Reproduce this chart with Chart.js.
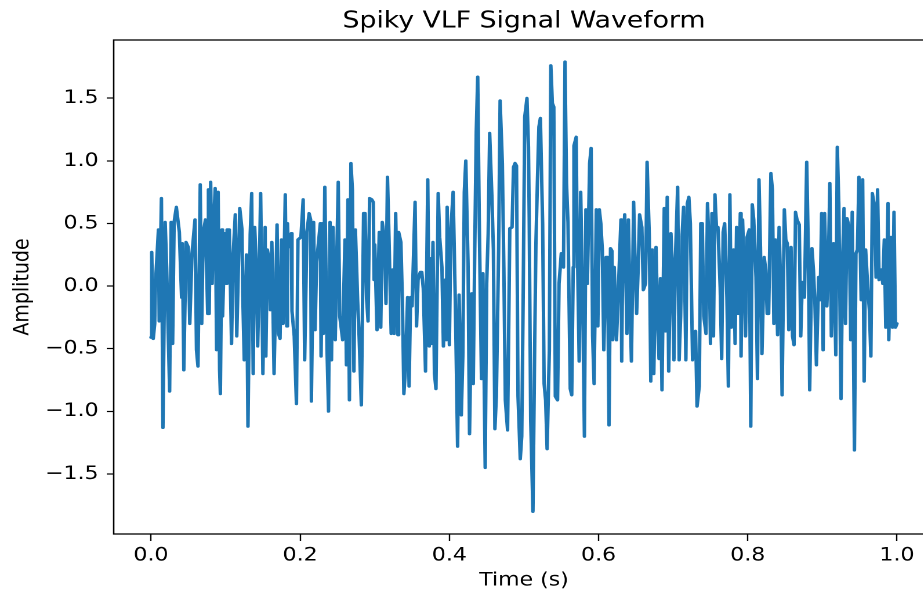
<!DOCTYPE html>
<html>
<head>
<meta charset="utf-8">
<title>Spiky VLF Signal Waveform</title>
<script src="https://cdn.jsdelivr.net/npm/chart.js@4.4.0/dist/chart.umd.min.js"></script>
<style>
  html, body { margin: 0; padding: 0; background: #fff; overflow: hidden; }
  /* la figura original viene estirada en horizontal (~1.16) */
  #contenedor { width: 810px; height: 594px; transform: scaleX(1.16); transform-origin: 0 0; }
</style>
</head>
<body>
<div id="contenedor"><canvas id="GraficoSenal" width="810" height="594"></canvas></div>
<script>
// tiempos (s) y amplitudes
var time = [
  0.000,0.001,0.003,0.005,0.006,0.010,0.011,0.014,0.016,0.019,
  0.021,0.025,0.027,0.029,0.031,0.034,0.038,0.041,0.042,0.044,
  0.047,0.050,0.052,0.055,0.059,0.061,0.063,0.066,0.068,0.070,
  0.073,0.076,0.077,0.078,0.080,0.082,0.083,0.086,0.088,0.090,
  0.092,0.093,0.095,0.096,0.099,0.101,0.102,0.105,0.108,0.110,
  0.113,0.115,0.119,0.122,0.123,0.125,0.128,0.130,0.133,0.135,
  0.137,0.139,0.142,0.143,0.145,0.147,0.150,0.153,0.154,0.156,
  0.159,0.160,0.162,0.165,0.169,0.171,0.173,0.175,0.177,0.180,
  0.182,0.183,0.184,0.188,0.189,0.192,0.195,0.197,0.201,0.204,
  0.206,0.209,0.212,0.214,0.215,0.218,0.220,0.222,0.227,0.228,
  0.230,0.231,0.233,0.236,0.238,0.240,0.242,0.244,0.247,0.251,
  0.253,0.257,0.260,0.262,0.264,0.266,0.268,0.270,0.272,0.274,
  0.277,0.279,0.282,0.285,0.287,0.289,0.291,0.293,0.296,0.298,
  0.299,0.300,0.303,0.306,0.308,0.310,0.313,0.315,0.317,0.319,
  0.322,0.324,0.326,0.328,0.331,0.332,0.335,0.337,0.339,0.341,
  0.344,0.346,0.348,0.350,0.354,0.356,0.358,0.361,0.363,0.365,
  0.368,0.371,0.373,0.375,0.376,0.378,0.380,0.382,0.385,0.387,
  0.390,0.392,0.395,0.396,0.397,0.400,0.402,0.405,0.408,0.411,
  0.413,0.416,0.418,0.420,0.422,0.425,0.427,0.430,0.432,0.434,
  0.436,0.438,0.440,0.443,0.445,0.448,0.450,0.452,0.454,0.457,
  0.459,0.461,0.463,0.466,0.468,0.471,0.473,0.475,0.478,0.481,
  0.484,0.486,0.488,0.490,0.492,0.495,0.497,0.499,0.501,0.504,
  0.506,0.507,0.509,0.512,0.514,0.516,0.518,0.520,0.522,0.525,
  0.527,0.529,0.531,0.534,0.536,0.538,0.540,0.542,0.545,0.547,
  0.550,0.553,0.555,0.557,0.559,0.562,0.564,0.566,0.567,0.570,
  0.571,0.574,0.576,0.579,0.581,0.583,0.585,0.588,0.590,0.592,
  0.594,0.597,0.599,0.601,0.603,0.605,0.607,0.610,0.612,0.614,
  0.616,0.618,0.619,0.621,0.624,0.630,0.631,0.632,0.635,0.638,
  0.640,0.642,0.644,0.647,0.649,0.651,0.653,0.655,0.658,0.660,
  0.663,0.665,0.668,0.670,0.672,0.674,0.677,0.679,0.681,0.683,
  0.685,0.688,0.690,0.692,0.694,0.697,0.699,0.701,0.703,0.706,
  0.708,0.710,0.712,0.714,0.717,0.719,0.721,0.723,0.726,0.728,
  0.730,0.732,0.735,0.737,0.739,0.741,0.744,0.746,0.748,0.750,
  0.752,0.754,0.756,0.758,0.760,0.763,0.765,0.767,0.769,0.772,
  0.774,0.776,0.778,0.781,0.783,0.785,0.787,0.790,0.791,0.793,
  0.795,0.797,0.799,0.802,0.804,0.806,0.808,0.811,0.813,0.815,
  0.817,0.819,0.822,0.824,0.826,0.828,0.831,0.833,0.835,0.837,
  0.840,0.842,0.844,0.846,0.849,0.851,0.853,0.855,0.858,0.860,
  0.862,0.864,0.866,0.869,0.871,0.873,0.876,0.879,0.881,0.883,
  0.886,0.888,0.890,0.892,0.895,0.897,0.899,0.901,0.903,0.906,
  0.908,0.910,0.912,0.915,0.918,0.920,0.922,0.925,0.927,0.929,
  0.931,0.933,0.936,0.938,0.940,0.943,0.945,0.947,0.949,0.952,
  0.954,0.956,0.958,0.961,0.963,0.965,0.967,0.970,0.972,0.974,
  0.976,0.979,0.981,0.983,0.985,0.988,0.989,0.992,0.994,0.996,
  0.998,1.000
];
var amplitude = [
  -0.41,0.27,-0.42,-0.30,0.02,0.45,-0.28,0.70,-1.13,0.51,
  0.15,-0.84,0.51,-0.46,0.51,0.63,0.43,-0.09,0.34,-0.67,
  0.35,0.31,-0.30,0.26,0.53,-0.51,-0.64,0.81,-0.30,0.42,
  0.53,-0.22,0.77,-0.22,0.83,0.02,0.34,0.78,-0.51,0.75,
  -0.67,-0.86,0.45,-0.24,0.42,0.02,0.45,0.45,-0.46,0.23,
  0.57,-0.40,0.62,0.45,-0.06,-0.59,0.25,-1.12,0.41,0.74,
  -0.70,0.47,0.05,-0.48,0.05,0.74,-0.70,0.47,-0.56,0.29,
  0.18,-0.19,0.35,-0.70,0.49,-0.38,-0.42,0.37,-0.30,0.73,
  -0.32,0.50,0.31,0.42,-0.20,-0.40,-0.94,0.37,0.39,0.69,
  -0.59,0.43,0.58,0.53,-0.92,0.51,-0.35,0.19,0.50,-0.56,
  0.50,-0.38,0.79,-0.51,-1.00,0.51,-0.59,0.47,-0.43,0.83,
  -0.24,-0.43,0.37,-0.63,0.69,-0.91,0.98,0.77,-0.68,0.45,
  -0.11,-0.40,-0.95,0.58,0.58,-0.10,-0.28,0.70,0.69,0.67,
  0.05,0.33,-0.35,0.43,-0.33,0.51,0.37,-0.14,0.87,0.40,
  -0.38,0.13,-0.38,0.58,-0.39,0.43,0.35,-0.11,-0.86,-0.67,
  -0.09,-0.80,-0.09,-0.16,0.67,-0.32,0.05,0.11,0.11,-0.02,
  -0.68,0.85,-0.48,0.22,-0.46,0.35,-0.70,-0.82,0.74,0.39,
  0.15,-0.48,0.05,-0.43,0.63,-0.47,0.45,0.75,-0.14,-1.28,
  -0.07,-1.03,-0.56,0.75,1.00,0.18,-1.18,-0.06,-0.78,0.29,
  1.23,1.67,0.55,-0.74,0.10,-1.45,0.02,0.42,1.22,0.71,
  0.29,-1.14,-0.88,0.29,1.48,0.98,0.15,-0.91,-1.15,0.46,
  0.47,0.95,0.98,0.96,-0.88,-1.38,-1.20,-0.03,1.35,1.50,
  1.11,0.55,-1.07,-1.80,-0.67,0.34,0.83,1.27,1.34,0.50,
  -0.78,-0.91,-1.30,-0.51,1.76,1.46,1.43,-0.88,-0.91,0.02,
  0.26,0.15,1.79,0.82,0.51,-0.82,-0.87,0.15,1.12,1.19,
  0.53,-0.60,0.75,-0.24,-1.20,0.61,0.02,0.98,1.10,-0.40,
  -0.78,0.61,-0.32,0.61,0.50,0.29,-0.51,0.23,0.23,-1.11,
  0.30,0.28,-0.43,0.15,-0.43,0.53,-0.60,0.02,0.57,-0.38,
  0.53,-0.09,-0.60,0.67,0.18,-0.22,0.13,0.57,0.47,-0.03,
  0.02,0.99,0.39,-0.76,0.29,-0.70,0.31,-0.22,-0.58,0.06,
  -0.83,0.62,-0.36,0.71,-0.68,0.42,0.13,-0.59,0.22,0.79,
  -0.59,-0.24,0.41,0.63,-0.59,0.66,0.71,0.50,-0.59,-0.39,
  -0.36,-0.96,-0.80,0.50,0.50,-0.24,-0.38,0.66,0.34,-0.46,
  0.58,-0.40,0.73,0.47,0.47,-0.01,-0.58,0.43,0.50,-0.09,
  -0.80,0.73,-0.33,0.29,-0.46,0.47,-0.22,0.58,-0.56,0.53,
  0.15,-0.40,0.39,0.45,-1.12,0.65,0.53,0.07,-0.74,0.85,
  0.31,-0.54,0.23,0.13,-0.22,-0.22,0.90,0.77,-0.30,0.37,
  -0.39,0.47,0.02,-0.87,0.61,0.37,0.34,-0.35,0.31,-0.40,
  -0.47,0.59,0.53,0.49,-0.40,0.03,-0.09,0.99,0.35,-0.83,
  0.30,0.13,-0.14,-0.63,0.07,-0.11,0.58,-0.51,0.58,-0.16,
  0.18,0.82,-0.40,0.34,-0.55,1.11,0.66,-0.90,0.18,0.62,
  -0.30,0.54,0.47,-0.43,0.59,-1.31,0.26,0.29,0.87,-0.11,
  0.85,-0.76,0.29,-0.03,-0.19,-0.56,0.74,0.63,0.07,0.77,
  0.05,0.13,0.02,0.37,-0.33,0.66,-0.43,0.39,-0.33,0.59,
  -0.33,-0.30
];
var xTicks = [0.0, 0.2, 0.4, 0.6, 0.8, 1.0];
var yTicks = [-1.5, -1.0, -0.5, 0.0, 0.5, 1.0, 1.5];

var fuente = 'DejaVu Sans';

function formato(v) {
  return Number(v).toFixed(1).replace('-', '\u2212');
}

// marco negro alrededor del area del grafico
var marco = {
  id: 'marco',
  afterDraw: function(chart) {
    var a = chart.chartArea;
    var c = chart.ctx;
    c.save();
    c.strokeStyle = '#000';
    c.lineWidth = 1.3;
    c.strokeRect(a.left, a.top, a.right - a.left, a.bottom - a.top);
    c.restore();
  }
};

var ctxSenal = document.getElementById('GraficoSenal').getContext('2d');
var GraficoSenal = new Chart(ctxSenal, {
  type: 'line',
  data: {
    datasets: [{
      label: 'Amplitude',
      data: time.map(function(t, i) { return { x: t, y: amplitude[i] }; }),
      borderColor: '#1f77b4',
      borderWidth: 3,
      borderJoinStyle: 'round',
      borderCapStyle: 'round',
      pointRadius: 0,
      fill: false,
      tension: 0
    }]
  },
  options: {
    responsive: false,
    devicePixelRatio: 2,
    animation: false,
    layout: { padding: { left: 0, right: 4.6, top: 0, bottom: 0 } },
    plugins: {
      legend: { display: false },
      tooltip: { enabled: false },
      title: {
        display: true,
        text: 'Spiky VLF Signal Waveform',
        fullSize: false,
        color: '#000',
        font: { family: fuente, size: 23, weight: 'normal' },
        padding: { top: 7.6, bottom: 4.8 }
      }
    },
    scales: {
      x: {
        type: 'linear',
        min: -0.05,
        max: 1.05,
        afterBuildTicks: function(s) { s.ticks = xTicks.map(function(v) { return { value: v }; }); },
        afterFit: function(s) { s.height = 60; },
        ticks: {
          color: '#000',
          font: { family: fuente, size: 19 },
          padding: 3,
          maxRotation: 0,
          autoSkip: false,
          callback: formato
        },
        grid: { drawOnChartArea: false, drawTicks: true, tickLength: 7, tickColor: '#000', tickWidth: 1.2 },
        border: { display: false },
        title: {
          display: true,
          text: 'Time (s)',
          color: '#000',
          font: { family: fuente, size: 19 },
          padding: { top: 2, bottom: 2 }
        }
      },
      y: {
        type: 'linear',
        min: -1.98,
        max: 1.965,
        afterBuildTicks: function(s) { s.ticks = yTicks.map(function(v) { return { value: v }; }); },
        afterFit: function(s) { s.width = 98; },
        ticks: {
          color: '#000',
          font: { family: fuente, size: 19 },
          padding: 7,
          autoSkip: false,
          callback: formato
        },
        grid: { drawOnChartArea: false, drawTicks: true, tickLength: 6, tickColor: '#000', tickWidth: 1.2 },
        border: { display: false },
        title: {
          display: true,
          text: 'Amplitude',
          color: '#000',
          font: { family: fuente, size: 19 },
          padding: { top: 8, bottom: 8 }
        }
      }
    }
  },
  plugins: [marco]
});
</script>
</body>
</html>
